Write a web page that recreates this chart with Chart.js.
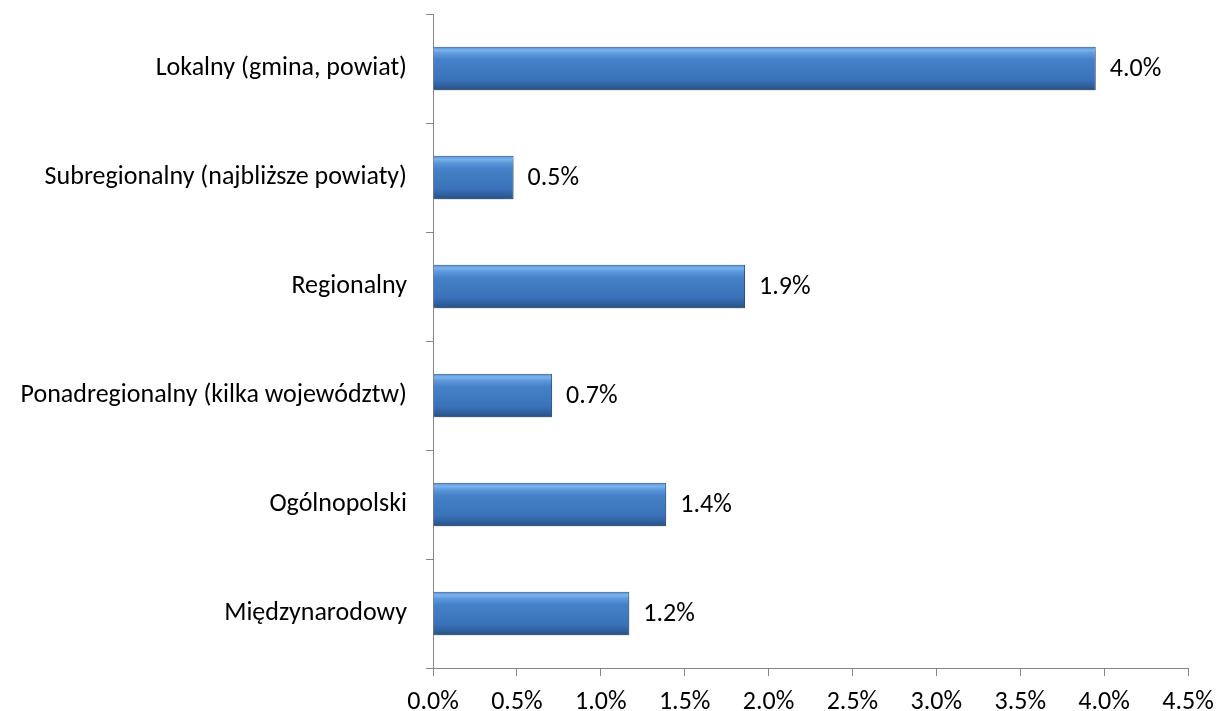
<!DOCTYPE html>
<html>
<head>
<meta charset="utf-8">
<script src="https://cdn.jsdelivr.net/npm/chart.js@4/dist/chart.umd.min.js"></script>
<style>
  html, body { margin: 0; padding: 0; background: #fff; }
  #wrap { width: 1217px; height: 711px; }
</style>
</head>
<body>
<div id="wrap"><canvas id="rangeChart"></canvas></div>
<script>
'use strict'

// categories and values
var categories = ['Lokalny (gmina, powiat)', 'Subregionalny (najbliższe powiaty)', 'Regionalny',
  'Ponadregionalny (kilka województw)', 'Ogólnopolski', 'Międzynarodowy'];
var values = [3.95, 0.48, 1.86, 0.71, 1.39, 1.17];
var valueLabels = ['4.0%', '0.5%', '1.9%', '0.7%', '1.4%', '1.2%'];
var xTicks = [0, 0.5, 1, 1.5, 2, 2.5, 3, 3.5, 4, 4.5];

var FONT = 'Carlito, Calibri, "Liberation Sans", sans-serif';
var BAR_PCT = 0.4;

// blue bevel gradient, built from the category scale position of each bar
function barFill(context) {
  var chart = context.chart;
  var y = chart.scales.y;
  if (!y || !chart.chartArea) return '#3f7cc4';
  var mid = y.getPixelForValue(context.dataIndex);
  var half = (chart.chartArea.bottom - chart.chartArea.top) / categories.length * BAR_PCT / 2;
  var g = chart.ctx.createLinearGradient(0, mid - half, 0, mid + half);
  g.addColorStop(0, '#4f8ad0');
  g.addColorStop(0.08, '#7db3ee');
  g.addColorStop(0.16, '#5e98dc');
  g.addColorStop(0.3, '#4581c8');
  g.addColorStop(0.75, '#3a72b9');
  g.addColorStop(0.9, '#2f5f9c');
  g.addColorStop(1, '#274f80');
  return g;
}

var barShadow = {
  id: 'barShadow',
  beforeDatasetsDraw: function (chart) {
    var ctx = chart.ctx;
    ctx.save();
    ctx.shadowColor = 'rgba(0,0,0,0.35)';
    ctx.shadowBlur = 6;
    ctx.shadowOffsetY = 3;
    ctx.shadowOffsetX = 1;
  },
  afterDatasetsDraw: function (chart) {
    chart.ctx.restore();
  }
};

var valueLabelPlugin = {
  id: 'valueLabels',
  afterDatasetsDraw: function (chart) {
    var ctx = chart.ctx;
    ctx.save();
    ctx.font = '26px ' + FONT;
    ctx.fillStyle = '#000';
    ctx.textBaseline = 'middle';
    chart.getDatasetMeta(0).data.forEach(function (bar, i) {
      ctx.fillText(valueLabels[i], bar.x + 14, bar.y + 1);
    });
    ctx.restore();
  }
};

var ctx = document.getElementById('rangeChart').getContext('2d');
var chart = new Chart(ctx, {
  type: 'bar',
  data: {
    labels: categories,
    datasets: [{
      data: values,
      backgroundColor: barFill,
      borderColor: '#2a5a94',
      borderWidth: 1,
      barPercentage: BAR_PCT,
      categoryPercentage: 1
    }]
  },
  plugins: [barShadow, valueLabelPlugin],
  options: {
    indexAxis: 'y',
    responsive: true,
    maintainAspectRatio: false,
    animation: false,
    layout: { padding: { top: 14, right: 29, bottom: 0, left: 0 } },
    plugins: { legend: { display: false }, tooltip: { enabled: false } },
    scales: {
      x: {
        min: 0,
        max: 4.5,
        afterBuildTicks: function (axis) {
          axis.ticks = xTicks.map(function (v) { return { value: v }; });
        },
        afterFit: function (axis) {
          axis.height = 43;
          axis.paddingLeft = 0;
          axis.paddingRight = 0;
        },
        grid: { drawOnChartArea: false, tickLength: 8, color: '#868686' },
        border: { color: '#868686' },
        ticks: {
          color: '#000',
          font: { size: 26, family: FONT },
          padding: 11,
          maxRotation: 0,
          callback: function (v) { return v.toFixed(1) + '%'; }
        }
      },
      y: {
        afterFit: function (axis) {
          axis.width = 433;
          axis.paddingTop = 0;
          axis.paddingBottom = 0;
        },
        grid: { drawOnChartArea: false, tickLength: 7, color: '#868686', offset: true },
        border: { color: '#868686' },
        ticks: {
          color: '#000',
          font: { size: 26, family: FONT },
          padding: 19
        }
      }
    }
  }
});
</script>
</body>
</html>
